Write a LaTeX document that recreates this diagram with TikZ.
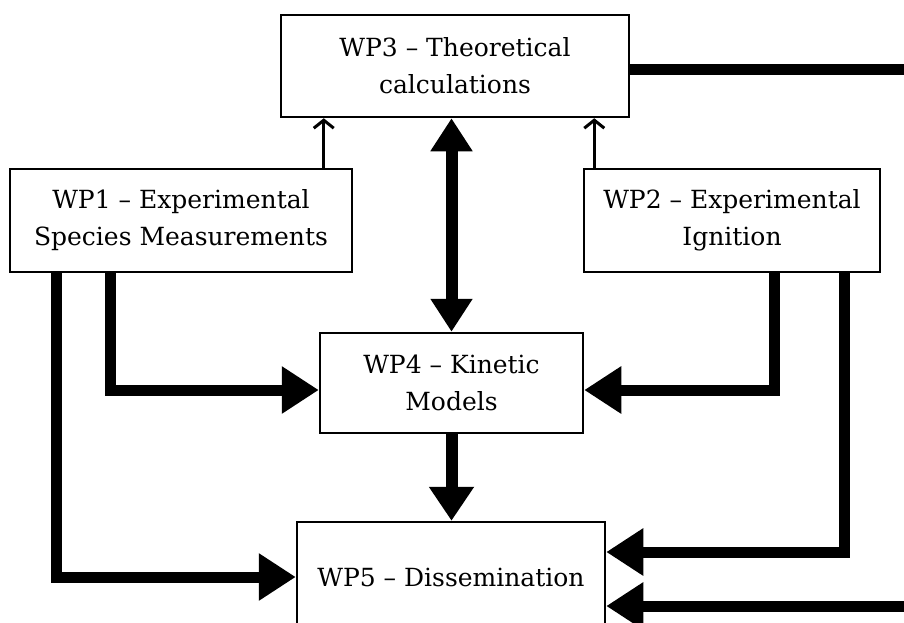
\documentclass[tikz,border=0pt]{standalone}
\usepackage{fontspec}
\setmainfont{DejaVu Serif}
\usepackage{tikz}
\usetikzlibrary{arrows.meta}
\usetikzlibrary{calc}

\begin{document}
\begin{tikzpicture}[x=1pt,y=-1pt,
    wpbox/.style={draw,line width=2.5pt,fill=white,align=center,inner sep=0pt,
      font=\fontsize{25}{37}\selectfont},
    thinarr/.style={line width=3pt,-{Straight Barb[length=8pt,width=20pt]}},
    thickarr/.style={line width=11pt,-{Triangle[length=37pt,width=45pt]}},
    bothway/.style={line width=12pt,{Triangle[length=33pt,width=40pt]}-{Triangle[length=33pt,width=40pt]}}]
  % Define the frame of the picture
  \clip (0,0) rectangle (904,622);
  \fill[white] (0,0) rectangle (904,622);

  % Place the work packages
  \node[wpbox,minimum width=348pt,minimum height=102pt] (wp3) at (455,66) {WP3 – Theoretical\\calculations};
  \node[wpbox,minimum width=342pt,minimum height=103pt] (wp1) at (181,220.5) {WP1 – Experimental\\Species Measurements};
  \node[wpbox,minimum width=296pt,minimum height=103pt] (wp2) at (732,220.5) {WP2 – Experimental\\Ignition};
  \node[wpbox,minimum width=263pt,minimum height=100pt] (wp4) at (451.5,383) {WP4 – Kinetic\\Models};
  \node[wpbox,minimum width=308pt,minimum height=110pt] (wp5) at (451,577) {WP5 – Dissemination};

  % Define the points where the lines leave and enter
  \coordinate (t1) at ([xshift=44pt]wp3.south west);
  \coordinate (t2) at ([xshift=-36pt]wp3.south east);
  \coordinate (a1) at ([xshift=48pt]wp1.south west);
  \coordinate (a2) at ([xshift=102pt]wp1.south west);
  \coordinate (b1) at ([xshift=-107pt]wp2.south east);
  \coordinate (b2) at ([xshift=-37pt]wp2.south east);
  \coordinate (k4) at ([yshift=-7pt]wp4.west);
  \coordinate (k4r) at ([yshift=-7pt]wp4.east);
  \coordinate (d1) at ([yshift=25pt]wp5.east);
  \coordinate (d2) at ([yshift=-29pt]wp5.east);
  \coordinate (far) at (940,0);

  % Draw the lines
  \draw[thinarr] (t1 |- wp1.north) -- (t1);
  \draw[thinarr] (t2 |- wp2.north) -- (t2);
  \draw[bothway] (wp4.north |- wp3.south) -- (wp4.north);
  \draw[thickarr] (a2) |- (k4);
  \draw[thickarr] (b1) |- (k4r);
  \draw[thickarr] (a1) |- (wp5.west);
  \draw[thickarr] (b2) |- (d1);
  \draw[thickarr] ([yshift=-3pt]wp3.east) -- ([yshift=-3pt]wp3.east -| far) |- (d2);
  \draw[line width=12pt,-{Triangle[length=34pt,width=43pt]}] (wp4.south) -- (wp4.south |- wp5.north);
\end{tikzpicture}
\end{document}
